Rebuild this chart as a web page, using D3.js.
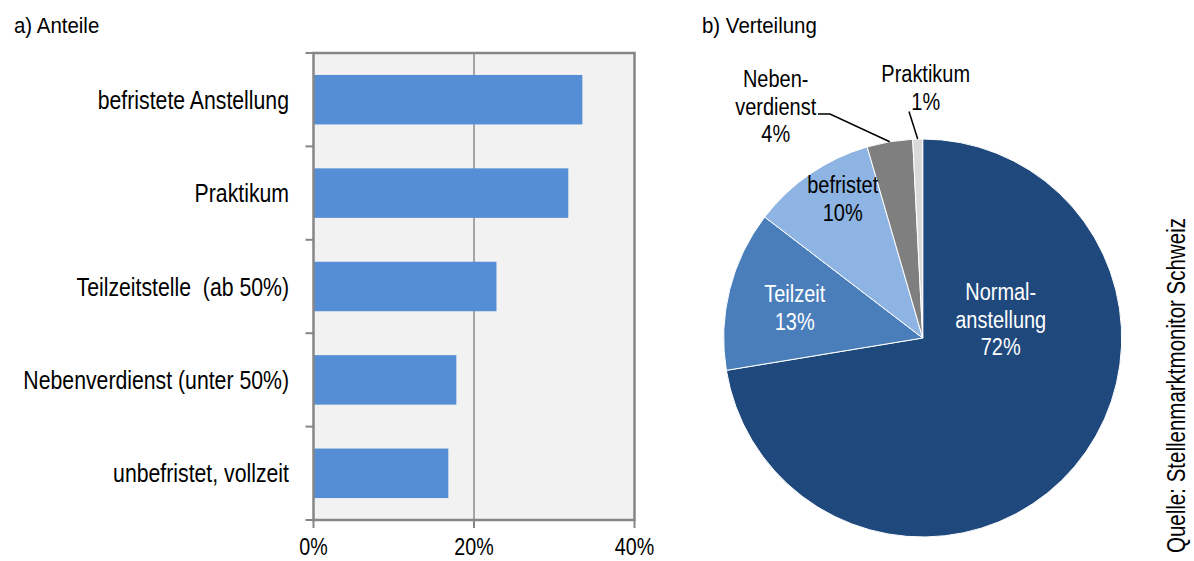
<!DOCTYPE html>
<html>
<head>
<meta charset="utf-8">
<script src="https://cdn.jsdelivr.net/npm/d3@7"></script>
<style>
  body { margin: 0; background: #fff; }
  text { fill: #000; }
</style>
</head>
<body>
<div id="chart"></div>
<script>
// data: a) Anteile
var categories = ["befristete Anstellung", "Praktikum", "Teilzeitstelle  (ab 50%)",
                  "Nebenverdienst (unter 50%)", "unbefristet, vollzeit"];
var shares = [33.5, 31.75, 22.8, 17.8, 16.8];
var xTicks = [0, 20, 40];

// data: b) Verteilung
var pieNames = ["Normalanstellung", "Teilzeit", "befristet", "Nebenverdienst", "Praktikum"];
var pieValues = [72.4, 13.0, 10.1, 3.7, 0.8];
var pieLabelLines = [["Normal-", "anstellung"], ["Teilzeit"], ["befristet"], ["Neben-", "verdienst"], ["Praktikum"]];

var svgWidth = 1194;
var svgHeight = 561;

// no narrow font installed, so squeeze Liberation Sans horizontally
var svg = d3.select("#chart")
  .append("svg")
  .attr("width", svgWidth)
  .attr("height", svgHeight)
  .style("font-family", '"Liberation Sans", Arial, sans-serif');

function narrowText(parent, x, y, str, size, sx, anchor) {
  return parent.append("text")
    .attr("transform", `translate(${x}, ${y}) scale(${sx}, 1)`)
    .attr("text-anchor", anchor || "start")
    .style("font-size", size + "px")
    .style("white-space", "pre")
    .text(str);
}

// titles
narrowText(svg, 14, 33, "a) Anteile", 22, 0.93);
narrowText(svg, 702, 33, "b) Verteilung", 22, 0.93);

// ---------- bar chart ----------
var plot = { left: 313.5, right: 634.5, top: 53, bottom: 520 };

var xScale = d3.scaleLinear()
  .domain([0, 40])
  .range([plot.left, plot.right]);

var yScale = d3.scaleBand()
  .domain(categories)
  .range([plot.top, plot.bottom])
  .paddingInner(0.47)
  .paddingOuter(0.235);

var barGroup = svg.append("g");

barGroup.append("rect")
  .attr("x", plot.left)
  .attr("y", plot.top)
  .attr("width", plot.right - plot.left)
  .attr("height", plot.bottom - plot.top)
  .attr("fill", "#f2f2f2");

// gridline
barGroup.selectAll(".grid")
  .data(xTicks.filter(d => d > 0 && d < 40))
  .enter()
  .append("line")
  .attr("x1", d => xScale(d))
  .attr("x2", d => xScale(d))
  .attr("y1", plot.top)
  .attr("y2", plot.bottom)
  .attr("stroke", "#a6a6a6")
  .attr("stroke-width", 2);

barGroup.selectAll(".bar")
  .data(shares)
  .enter()
  .append("rect")
  .attr("x", xScale(0))
  .attr("y", (d, i) => yScale(categories[i]))
  .attr("width", d => xScale(d) - xScale(0))
  .attr("height", yScale.bandwidth())
  .attr("fill", "#558ed5");

// frame
barGroup.append("rect")
  .attr("x", plot.left)
  .attr("y", plot.top)
  .attr("width", plot.right - plot.left)
  .attr("height", plot.bottom - plot.top)
  .attr("fill", "none")
  .attr("stroke", "#868686")
  .attr("stroke-width", 2.5);

// category ticks sit between the bands
var bounds = d3.range(categories.length + 1).map(i => plot.top + i * (plot.bottom - plot.top) / categories.length);
barGroup.selectAll(".ytick")
  .data(bounds)
  .enter()
  .append("line")
  .attr("x1", plot.left - 8)
  .attr("x2", plot.left)
  .attr("y1", d => d)
  .attr("y2", d => d)
  .attr("stroke", "#868686")
  .attr("stroke-width", 2);

barGroup.selectAll(".xtick")
  .data(xTicks)
  .enter()
  .append("line")
  .attr("x1", d => xScale(d))
  .attr("x2", d => xScale(d))
  .attr("y1", plot.bottom)
  .attr("y2", plot.bottom + 8)
  .attr("stroke", "#868686")
  .attr("stroke-width", 2);

xTicks.forEach(function(d) {
  narrowText(barGroup, xScale(d), 555, d + "%", 24, 0.82, "middle");
});

categories.forEach(function(d) {
  narrowText(barGroup, 289, yScale(d) + yScale.bandwidth() / 2 + 9, d, 25, 0.85, "end");
});

// ---------- pie chart ----------
var cx = 922.7, cy = 338, radius = 199;

var pie = d3.pie().sort(null).value(d => d);
var arcs = pie(pieValues);
var arc = d3.arc().innerRadius(0).outerRadius(radius);
var pieColors = ["#1f497d", "#4a7ebb", "#8db4e2", "#7f7f7f", "#d9d9d9"];

var pieGroup = svg.append("g").attr("transform", `translate(${cx}, ${cy})`);

pieGroup.selectAll("path")
  .data(arcs)
  .enter()
  .append("path")
  .attr("d", arc)
  .attr("fill", (d, i) => pieColors[i])
  .attr("stroke", "#fff")
  .attr("stroke-width", 1);

// label positions (relative to pie centre), first-line baseline
var labelPos = [
  { x: 78, y: -38, color: "#fff" },
  { x: -128, y: -36, color: "#fff" },
  { x: -80, y: -145, color: "#000" },
  { x: -147, y: -251, color: "#000" },
  { x: 3, y: -256, color: "#000" }
];

arcs.forEach(function(a, i) {
  var lines = pieLabelLines[i].concat([Math.round(pieValues[i]) + "%"]);
  lines.forEach(function(l, j) {
    narrowText(pieGroup, labelPos[i].x, labelPos[i].y + j * 27.5, l, 23.5, 0.85, "middle")
      .style("fill", labelPos[i].color);
  });
});

// leader lines to the small slices
function edgePoint(a) {
  var ang = (a.startAngle + a.endAngle) / 2;
  return [Math.sin(ang) * radius, -Math.cos(ang) * radius];
}
var leaders = [
  { idx: 3, pts: [[-104.7, -224], [-92.7, -224]] },
  { idx: 4, pts: [[-13.7, -226.5]] }
];
leaders.forEach(function(l) {
  var pts = l.pts.concat([edgePoint(arcs[l.idx])]);
  pieGroup.append("path")
    .attr("d", d3.line()(pts))
    .attr("fill", "none")
    .attr("stroke", "#000")
    .attr("stroke-width", 1.5);
});

// source
svg.append("text")
  .attr("transform", "translate(1185, 553) rotate(-90) scale(0.82, 1)")
  .style("font-size", "25px")
  .text("Quelle: Stellenmarktmonitor Schweiz");
</script>
</body>
</html>
